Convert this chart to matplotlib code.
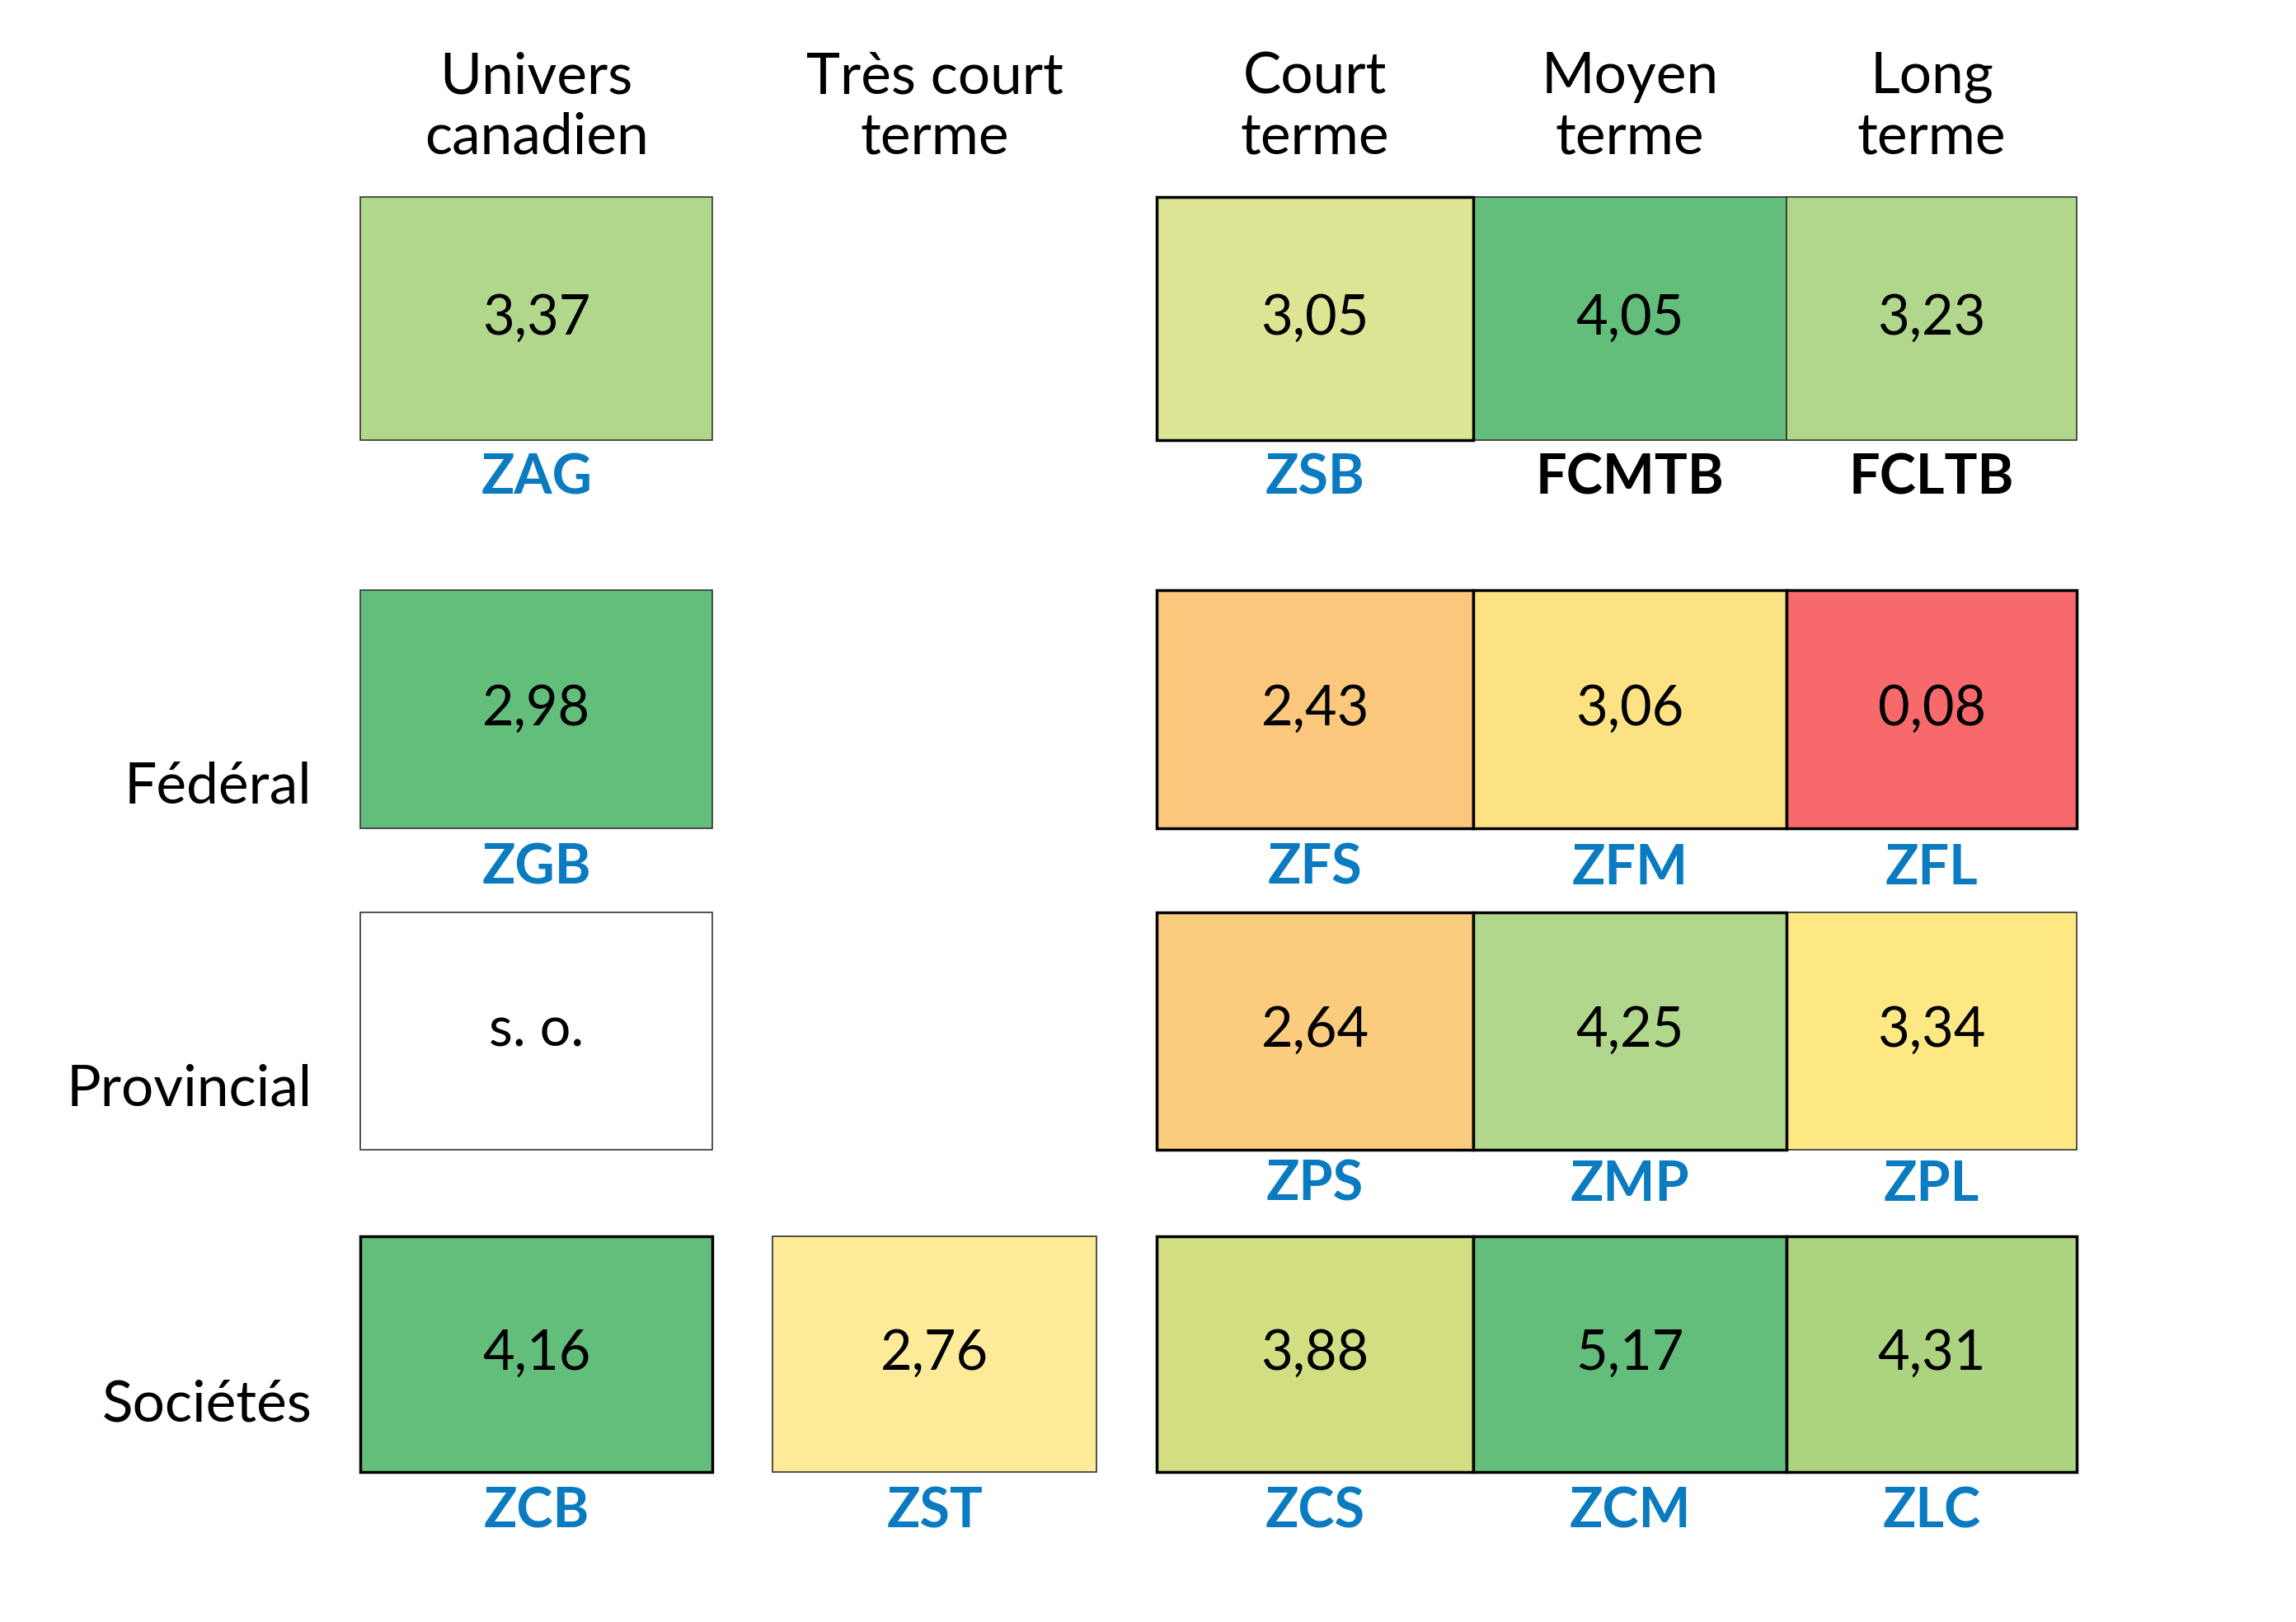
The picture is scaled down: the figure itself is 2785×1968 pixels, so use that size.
import matplotlib

matplotlib.use("Agg")
import matplotlib.pyplot as plt
from matplotlib.patches import Rectangle

plt.rcParams["font.family"] = ["Lato", "DejaVu Sans"]

headers = ["Univers\ncanadien", "Très court\nterme", "Court\nterme", "Moyen\nterme", "Long\nterme"]
row_labels = ["", "Fédéral", "Provincial", "Sociétés"]

# (row, col, value, fill, ticker, ticker_is_blue, thick_border)
cells_row = [0, 0, 0, 0, 1, 1, 1, 1, 2, 2, 2, 2, 3, 3, 3, 3, 3]
cells_col = [0, 2, 3, 4, 0, 2, 3, 4, 0, 2, 3, 4, 0, 1, 2, 3, 4]
values = ["3,37", "3,05", "4,05", "3,23",
          "2,98", "2,43", "3,06", "0,08",
          "s. o.", "2,64", "4,25", "3,34",
          "4,16", "2,76", "3,88", "5,17", "4,31"]
fills = ["#b0d78b", "#dde594", "#63bd7b", "#b0d78b",
         "#63bd7b", "#fbc77c", "#fde283", "#f8696b",
         "#ffffff", "#fbcc7e", "#b0d78b", "#fde883",
         "#63bd7b", "#feeb9a", "#d2de81", "#63bd7b", "#acd380"]
tickers = ["ZAG", "ZSB", "FCMTB", "FCLTB",
           "ZGB", "ZFS", "ZFM", "ZFL",
           "", "ZPS", "ZMP", "ZPL",
           "ZCB", "ZST", "ZCS", "ZCM", "ZLC"]
blue_ticker = [True, True, False, False] + [True] * 13
thick = [False, True, False, False,
         False, True, True, True,
         False, True, True, False,
         True, False, True, True, True]

# layout in 1560-wide reference pixels
S = 2785 / 1560
col_x = [(245, 484), (525, 745), (786, 1001), (1001, 1214), (1214, 1411)]
row_y = [(134, 299), (401, 563), (620, 781), (840, 1000)]
label_y = [325, 590, 805, 1027]
row_label_y = [None, 535, 740, 955]

fig = plt.figure(figsize=(27.85, 19.68), dpi=100)
ax = fig.add_axes([0, 0, 1, 1])
ax.set_xlim(0, 1560)
ax.set_ylim(1102, 0)
ax.axis("off")

for c, h in enumerate(headers):
    xc = sum(col_x[c]) / 2
    ax.text(xc, 73, h, ha="center", va="center", fontsize=50, linespacing=1.2)

for r, lab in enumerate(row_labels):
    if lab:
        ax.text(212, row_label_y[r], lab, ha="right", va="center", fontsize=50)

for r, c, v, f, t, b, th in zip(cells_row, cells_col, values, fills, tickers, blue_ticker, thick):
    x0, x1 = col_x[c]
    y0, y1 = row_y[r]
    ax.add_patch(Rectangle((x0, y0), x1 - x0, y1 - y0, facecolor=f,
                           edgecolor="black" if th else "#333333", lw=2.5 if th else 1.2, zorder=2 if not th else 3))
    ax.text((x0 + x1) / 2, (y0 + y1) / 2, v, ha="center", va="center", fontsize=48, zorder=4)
    if t:
        ax.text((x0 + x1) / 2, label_y[r], t, ha="center", va="center", fontsize=48,
                fontweight="bold", color="#0a7bc1" if b else "black", zorder=4)

fig.savefig("out.png", dpi=100)
